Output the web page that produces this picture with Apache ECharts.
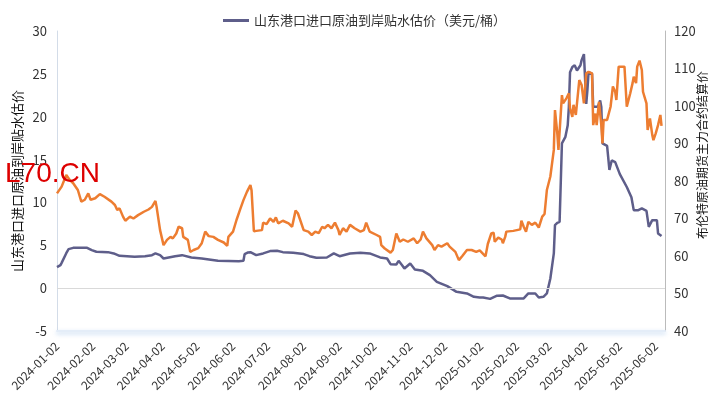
<!DOCTYPE html>
<html>
<head>
<meta charset="utf-8">
<script src="https://cdn.jsdelivr.net/npm/echarts@6/dist/echarts.min.js"></script>
<style>
  html, body { margin: 0; padding: 0; background: #fff; }
  #myChart { width: 725px; height: 416px; }
</style>
</head>
<body>
<div id="myChart"></div>
<script>
// 横轴按自然日排列，标签只显示每月 2 日
var startDay = '2024-01-02'
var endDay = '2025-06-10'

var premiumName = '山东港口进口原油到岸贴水估价'
var premiumLegend = '山东港口进口原油到岸贴水估价（美元/桶）'
var brentName = '布伦特原油期货主力合约结算价'

var leftTicks = { min: -5, max: 30, interval: 5 }
var rightTicks = { min: 40, max: 120, interval: 10 }

// 贴水估价（左轴，美元/桶）
var premiumData = [
  ['2024-01-02', 2.45], ['2024-01-05', 2.68], ['2024-01-06', 2.95], ['2024-01-10', 4.08],
  ['2024-01-12', 4.55], ['2024-01-16', 4.7], ['2024-01-22', 4.7], ['2024-01-23', 4.5],
  ['2024-01-28', 4.7], ['2024-02-01', 4.43], ['2024-02-05', 4.24], ['2024-02-15', 4.2],
  ['2024-02-20', 4.05], ['2024-02-25', 3.77], ['2024-03-09', 3.65], ['2024-03-18', 3.73],
  ['2024-03-24', 3.85], ['2024-03-27', 4.05], ['2024-03-31', 3.85], ['2024-04-03', 3.46],
  ['2024-04-13', 3.73], ['2024-04-19', 3.85], ['2024-04-27', 3.58], ['2024-05-06', 3.46],
  ['2024-05-20', 3.19], ['2024-06-07', 3.15], ['2024-06-11', 3.19], ['2024-06-12', 3.97],
  ['2024-06-15', 4.17], ['2024-06-17', 4.2], ['2024-06-22', 3.85], ['2024-06-28', 4.05],
  ['2024-07-04', 4.32], ['2024-07-10', 4.36], ['2024-07-15', 4.2], ['2024-07-24', 4.12],
  ['2024-08-02', 3.97], ['2024-08-07', 3.73], ['2024-08-13', 3.54], ['2024-08-22', 3.58],
  ['2024-08-28', 4.05], ['2024-09-02', 3.73], ['2024-09-11', 4.05], ['2024-09-20', 4.12],
  ['2024-09-28', 4.05], ['2024-10-07', 3.58], ['2024-10-13', 3.46], ['2024-10-16', 2.8],
  ['2024-10-21', 2.76], ['2024-10-23', 3.19], ['2024-10-26', 2.68], ['2024-10-28', 2.3],
  ['2024-11-02', 2.88], ['2024-11-06', 2.18], ['2024-11-13', 2.02], ['2024-11-19', 1.52],
  ['2024-11-25', 0.74], ['2024-12-04', 0.23], ['2024-12-12', -0.43], ['2024-12-21', -0.62],
  ['2024-12-27', -1.01], ['2025-01-01', -1.09], ['2025-01-04', -1.09], ['2025-01-10', -1.25],
  ['2025-01-16', -0.88], ['2025-01-21', -0.86], ['2025-01-27', -1.2], ['2025-02-08', -1.2],
  ['2025-02-12', -0.62], ['2025-02-18', -0.62], ['2025-02-21', -1.09], ['2025-02-25', -1.01],
  ['2025-02-28', -0.62], ['2025-03-03', 1.13], ['2025-03-06', 4.05], ['2025-03-07', 7.35],
  ['2025-03-09', 7.62], ['2025-03-11', 7.74], ['2025-03-13', 16.9], ['2025-03-16', 17.65],
  ['2025-03-18', 19.0], ['2025-03-19', 21.15], ['2025-03-20', 25.2], ['2025-03-22', 25.8],
  ['2025-03-24', 26.0], ['2025-03-26', 25.4], ['2025-03-29', 26.0], ['2025-03-30', 26.6],
  ['2025-04-01', 27.3], ['2025-04-02', 27.2], ['2025-04-03', 21.5], ['2025-04-04', 23.1],
  ['2025-04-05', 25.2], ['2025-04-08', 25.0], ['2025-04-09', 21.15], ['2025-04-13', 21.15],
  ['2025-04-15', 21.9], ['2025-04-16', 21.15], ['2025-04-17', 16.9], ['2025-04-21', 16.6],
  ['2025-04-23', 13.8], ['2025-04-25', 14.9], ['2025-04-28', 14.7], ['2025-05-02', 13.3],
  ['2025-05-08', 11.8], ['2025-05-12', 10.6], ['2025-05-14', 9.1], ['2025-05-18', 9.1],
  ['2025-05-21', 9.3], ['2025-05-25', 9.02], ['2025-05-27', 7.15], ['2025-05-30', 7.93],
  ['2025-06-03', 7.93], ['2025-06-04', 6.38], ['2025-06-07', 6.07]
]

// 布伦特主力合约结算价（右轴）
var brentData = [
  ['2024-01-02', 76.7], ['2024-01-03', 76.3], ['2024-01-06', 78.5], ['2024-01-10', 81.6],
  ['2024-01-13', 80.3], ['2024-01-16', 79.4], ['2024-01-20', 77.6], ['2024-01-23', 74.5],
  ['2024-01-26', 75.0], ['2024-01-29', 76.7], ['2024-01-31', 75.0], ['2024-02-04', 75.4],
  ['2024-02-08', 76.5], ['2024-02-12', 75.8], ['2024-02-18', 74.5], ['2024-02-21', 73.6],
  ['2024-02-23', 72.3], ['2024-02-25', 72.7], ['2024-02-28', 70.5], ['2024-03-01', 69.4],
  ['2024-03-05', 70.5], ['2024-03-08', 70.0], ['2024-03-12', 70.9], ['2024-03-17', 71.8],
  ['2024-03-21', 72.4], ['2024-03-24', 73.1], ['2024-03-27', 74.7], ['2024-03-28', 73.1],
  ['2024-03-31', 66.9], ['2024-04-03', 62.9], ['2024-04-06', 64.3], ['2024-04-09', 65.1],
  ['2024-04-11', 64.7], ['2024-04-14', 66.0], ['2024-04-16', 67.8], ['2024-04-19', 67.4],
  ['2024-04-20', 65.1], ['2024-04-24', 64.3], ['2024-04-26', 61.1], ['2024-04-29', 61.6],
  ['2024-05-03', 62.1], ['2024-05-06', 63.4], ['2024-05-09', 66.5], ['2024-05-12', 65.3],
  ['2024-05-16', 65.1], ['2024-05-20', 64.3], ['2024-05-25', 63.6], ['2024-05-28', 62.7],
  ['2024-05-29', 65.1], ['2024-06-02', 66.5], ['2024-06-05', 69.6], ['2024-06-08', 72.3],
  ['2024-06-11', 74.9], ['2024-06-14', 77.1], ['2024-06-17', 78.9], ['2024-06-18', 77.5],
  ['2024-06-20', 66.6], ['2024-06-22', 66.7], ['2024-06-27', 66.9], ['2024-06-28', 68.9],
  ['2024-07-01', 68.5], ['2024-07-04', 70.0], ['2024-07-07', 69.1], ['2024-07-09', 70.3],
  ['2024-07-11', 68.7], ['2024-07-15', 69.4], ['2024-07-20', 68.7], ['2024-07-23', 67.8],
  ['2024-07-26', 72.1], ['2024-07-28', 71.4], ['2024-08-02', 66.9], ['2024-08-06', 66.5],
  ['2024-08-09', 65.6], ['2024-08-12', 66.5], ['2024-08-15', 66.1], ['2024-08-18', 67.8],
  ['2024-08-20', 67.4], ['2024-08-23', 68.3], ['2024-08-26', 67.4], ['2024-08-29', 68.9],
  ['2024-09-01', 66.9], ['2024-09-02', 65.6], ['2024-09-05', 67.4], ['2024-09-08', 66.5],
  ['2024-09-11', 68.3], ['2024-09-15', 67.4], ['2024-09-20', 66.5], ['2024-09-23', 66.9],
  ['2024-09-25', 68.9], ['2024-09-28', 66.5], ['2024-10-04', 65.6], ['2024-10-07', 65.1],
  ['2024-10-08', 62.9], ['2024-10-11', 62.0], ['2024-10-16', 60.9], ['2024-10-18', 61.6],
  ['2024-10-21', 66.0], ['2024-10-24', 63.8], ['2024-10-27', 64.4], ['2024-10-31', 63.8],
  ['2024-11-05', 64.7], ['2024-11-08', 63.4], ['2024-11-11', 64.4], ['2024-11-13', 66.5],
  ['2024-11-16', 64.7], ['2024-11-21', 62.9], ['2024-11-23', 61.6], ['2024-11-26', 62.9],
  ['2024-11-29', 62.5], ['2024-12-04', 63.4], ['2024-12-06', 62.5], ['2024-12-11', 61.1],
  ['2024-12-14', 58.9], ['2024-12-17', 60.0], ['2024-12-21', 61.6], ['2024-12-25', 61.6],
  ['2024-12-29', 61.1], ['2025-01-01', 61.5], ['2025-01-06', 59.9], ['2025-01-08', 63.2],
  ['2025-01-11', 66.0], ['2025-01-13', 66.2], ['2025-01-14', 63.8], ['2025-01-17', 64.9],
  ['2025-01-20', 64.4], ['2025-01-21', 63.4], ['2025-01-23', 65.1], ['2025-01-24', 66.5],
  ['2025-01-30', 66.7], ['2025-02-05', 67.1], ['2025-02-06', 69.4], ['2025-02-08', 67.8],
  ['2025-02-10', 66.5], ['2025-02-12', 69.1], ['2025-02-15', 68.3], ['2025-02-18', 68.9],
  ['2025-02-21', 67.6], ['2025-02-24', 70.5], ['2025-02-26', 71.2], ['2025-02-28', 77.6],
  ['2025-03-03', 81.2], ['2025-03-04', 81.6], ['2025-03-06', 88.3], ['2025-03-07', 98.9],
  ['2025-03-09', 92.7], ['2025-03-10', 88.3], ['2025-03-13', 102.9], ['2025-03-14', 100.7],
  ['2025-03-17', 102.1], ['2025-03-19', 103.4], ['2025-03-20', 99.4], ['2025-03-22', 97.1],
  ['2025-03-23', 100.3], ['2025-03-25', 97.6], ['2025-03-28', 106.9], ['2025-03-30', 105.6],
  ['2025-04-01', 100.7], ['2025-04-03', 108.7], ['2025-04-05', 109.1], ['2025-04-08', 108.7],
  ['2025-04-09', 94.9], ['2025-04-11', 98.0], ['2025-04-12', 94.9], ['2025-04-14', 101.1],
  ['2025-04-16', 94.9], ['2025-04-17', 90.0], ['2025-04-18', 96.3], ['2025-04-21', 96.3],
  ['2025-04-24', 99.8], ['2025-04-26', 105.2], ['2025-04-28', 103.8], ['2025-04-29', 101.6],
  ['2025-05-01', 110.5], ['2025-05-06', 110.5], ['2025-05-08', 99.8], ['2025-05-11', 103.4],
  ['2025-05-13', 106.1], ['2025-05-14', 107.8], ['2025-05-16', 106.1], ['2025-05-17', 110.5],
  ['2025-05-19', 112.1], ['2025-05-21', 109.6], ['2025-05-22', 103.8], ['2025-05-25', 100.7],
  ['2025-05-26', 93.6], ['2025-05-28', 96.7], ['2025-05-30', 92.3], ['2025-05-31', 90.9],
  ['2025-06-02', 92.7], ['2025-06-04', 94.9], ['2025-06-06', 97.6], ['2025-06-07', 94.7]
]

function buildDays (start, end) {
  var days = []
  var d = new Date(start + 'T00:00:00Z')
  var last = new Date(end + 'T00:00:00Z')
  while (d <= last) {
    days.push(d.toISOString().slice(0, 10))
    d.setUTCDate(d.getUTCDate() + 1)
  }
  return days
}

var xDays = buildDays(startDay, endDay)
var font = '"Noto Sans CJK SC", "Noto Sans", sans-serif'

var myChart = echarts.init(document.getElementById('myChart'))
myChart.setOption({
  animation: false,
  textStyle: { fontFamily: font },
  legend: {
    data: [premiumName],
    formatter: function () { return premiumLegend },
    icon: 'rect',
    left: 218,
    top: 9,
    itemWidth: 26,
    itemHeight: 3,
    itemGap: 10,
    textStyle: { fontSize: 13, color: '#333', fontFamily: font }
  },
  grid: { left: 57, right: 60, top: 31, bottom: 85, containLabel: false },
  graphic: [
    {
      type: 'text',
      left: 5,
      top: 160,
      z: 100,
      style: {
        text: 'L70.CN',
        fill: '#dd0000',
        font: '28px "Liberation Sans", Arial, sans-serif'
      }
    }
  ],
  xAxis: {
    type: 'category',
    data: xDays,
    boundaryGap: false,
    axisLine: {
      onZero: false,
      lineStyle: {
        color: '#e4edf8',
        width: 2,
        shadowColor: 'rgba(170, 200, 235, 0.8)',
        shadowBlur: 4,
        shadowOffsetY: 2
      }
    },
    axisTick: { show: false },
    axisLabel: {
      interval: function (index, value) { return value.slice(8) === '02' },
      rotate: 45,
      margin: 13,
      fontSize: 12,
      color: '#333'
    },
    splitLine: { show: false }
  },
  yAxis: [
    {
      type: 'value',
      position: 'left',
      min: leftTicks.min,
      max: leftTicks.max,
      interval: leftTicks.interval,
      name: premiumName,
      nameLocation: 'middle',
      nameRotate: 90,
      nameGap: 33,
      nameMoveOverlap: false,
      nameTextStyle: { fontSize: 13, color: '#111' },
      axisLine: { show: true, lineStyle: { color: '#d3dce8' } },
      axisTick: { show: false },
      axisLabel: { fontSize: 13, color: '#333', margin: 10 },
      splitLine: { show: false }
    },
    {
      type: 'value',
      position: 'right',
      min: rightTicks.min,
      max: rightTicks.max,
      interval: rightTicks.interval,
      name: brentName,
      nameLocation: 'middle',
      nameRotate: 90,
      nameGap: 31,
      nameMoveOverlap: false,
      nameTextStyle: { fontSize: 12, color: '#111', padding: [0, 0, 0, 52] },
      axisLine: { show: true, lineStyle: { color: '#bbbbbb' } },
      axisTick: { show: false },
      axisLabel: { fontSize: 13, color: '#333', margin: 9 },
      splitLine: { show: false }
    }
  ],
  series: [
    {
      name: premiumName,
      type: 'line',
      yAxisIndex: 0,
      data: premiumData,
      symbol: 'none',
      color: '#5e5e8a',
      lineStyle: { width: 2.5, color: '#5e5e8a' },
      markLine: {
        silent: true,
        symbol: 'none',
        label: { show: false },
        lineStyle: { color: '#d9d9d9', width: 1, type: 'solid' },
        data: [{ yAxis: 0 }]
      },
      z: 2
    },
    {
      name: brentName,
      type: 'line',
      yAxisIndex: 1,
      data: brentData,
      symbol: 'none',
      color: '#ed7d31',
      lineStyle: { width: 2.5, color: '#ed7d31' },
      z: 3
    }
  ]
})
</script>
</body>
</html>
